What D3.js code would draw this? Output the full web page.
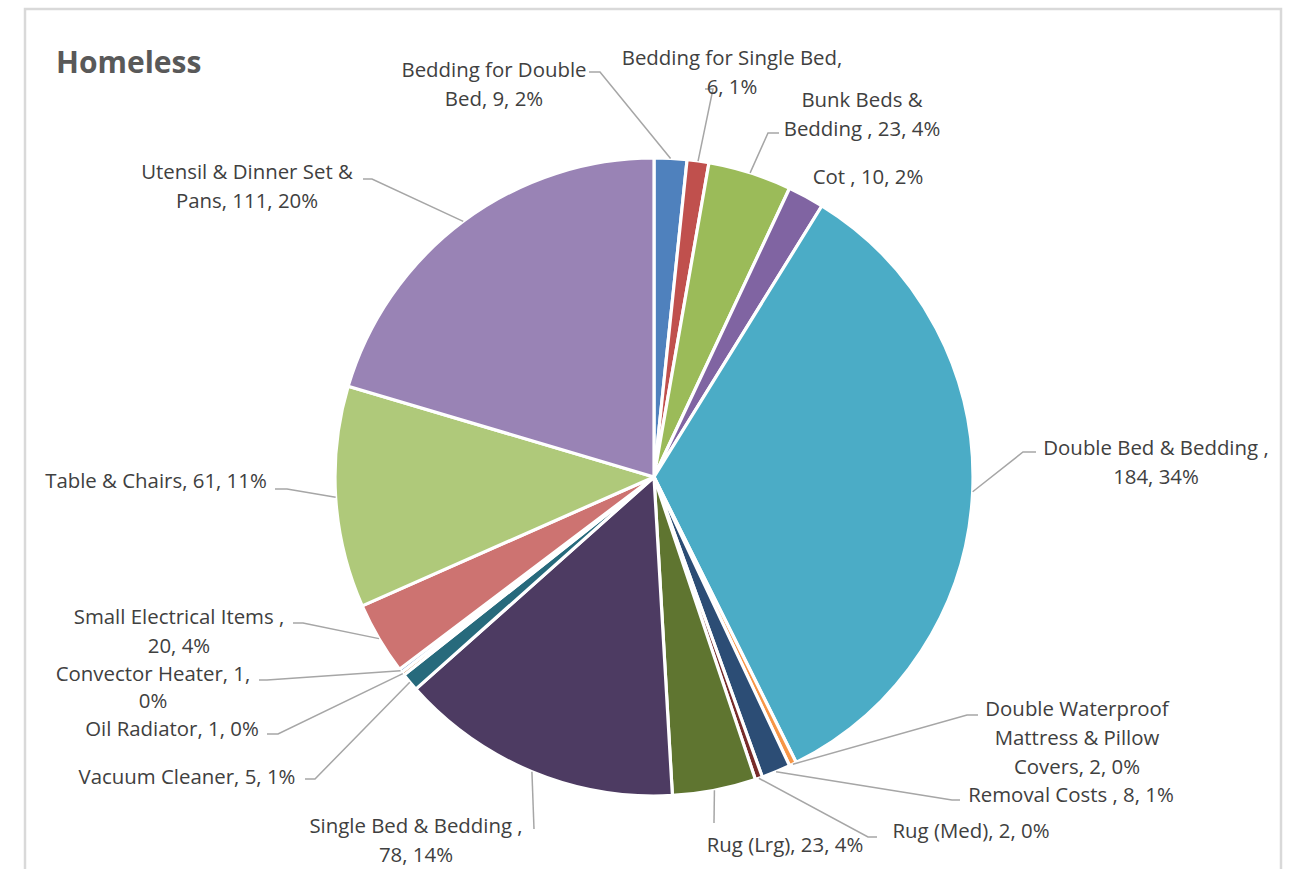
<!DOCTYPE html>
<html>
<head>
<meta charset="utf-8">
<script src="https://cdn.jsdelivr.net/npm/d3@7"></script>
<style>
  html, body { margin: 0; padding: 0; background: #ffffff; }
  svg { display: block; font-family: "Open Sans", "Noto Sans", sans-serif; }
</style>
</head>
<body>
<svg id="chart" width="1290" height="869"></svg>
<script>
// Item categories and counts, in pie order (clockwise from 12 o'clock)
const categories = [
  "Bedding for Double Bed",
  "Bedding for Single Bed",
  "Bunk Beds & Bedding ",
  "Cot ",
  "Double Bed & Bedding ",
  "Double Waterproof Mattress & Pillow Covers",
  "Removal Costs ",
  "Rug (Med)",
  "Rug (Lrg)",
  "Single Bed & Bedding ",
  "Vacuum Cleaner",
  "Oil Radiator",
  "Convector Heater",
  "Small Electrical Items ",
  "Table & Chairs",
  "Utensil & Dinner Set & Pans"
];
const values = [9, 6, 23, 10, 184, 2, 8, 2, 23, 78, 5, 1, 1, 20, 61, 111];

// Office-style palette for the sixteen slices
const sliceColors = [
  "#4F81BD", "#C0504D", "#9BBB59", "#8064A2", "#4BACC6", "#F79646",
  "#2C4D75", "#772C2A", "#5F7530", "#4D3B62", "#276A7C", "#B65708",
  "#729ACA", "#CD7371", "#AFC97A", "#9983B5"
];

// Words per line for each data label
const labelWraps = [
  [3, 3], [4, 2], [3, 4], [4], [5, 2], [2, 3, 3], [5], [4],
  [4], [5, 2], [4], [4], [3, 1], [4, 2], [5], [5, 3]
];

// Label placement: centre x, first baseline, line gap, leader elbow and end
const labelLayout = [
  { cx: 494,  y: 77,  gap: 29, knee: [600, 72],  end: [589, 72] },
  { cx: 732,  y: 65,  gap: 29, knee: [713, 89],  end: [705, 89] },
  { cx: 862,  y: 107, gap: 29, knee: [768, 133], end: [779, 133] },
  { cx: 868,  y: 184, gap: 29, knee: null,       end: null },
  { cx: 1156, y: 455, gap: 29, knee: [1023, 452], end: [1036, 452] },
  { cx: 1077, y: 716, gap: 29, knee: [967, 715], end: [978, 715] },
  { cx: 1071, y: 802, gap: 29, knee: [952, 800], end: [960, 800] },
  { cx: 971,  y: 838, gap: 29, knee: [868, 837], end: [877, 837] },
  { cx: 785,  y: 852, gap: 29, knee: [714, 823], end: [714, 823] },
  { cx: 416,  y: 833, gap: 29, knee: [534, 829], end: [534, 829] },
  { cx: 187,  y: 784, gap: 29, knee: [315, 779], end: [305, 779] },
  { cx: 172,  y: 736, gap: 29, knee: [278, 734], end: [267, 734] },
  { cx: 153,  y: 681, gap: 27, knee: [267, 680], end: [259, 680] },
  { cx: 179,  y: 624, gap: 29, knee: [303, 623], end: [293, 623] },
  { cx: 156,  y: 488, gap: 29, knee: [287, 489], end: [275, 489] },
  { cx: 247,  y: 179, gap: 29, knee: [372, 179], end: [363, 179] }
];

const chartTitle = "Homeless";

const svg = d3.select("#chart");
const W = 1290, H = 869;

// Chart frame
svg.append("rect")
  .attr("x", 25).attr("y", 9)
  .attr("width", 1256).attr("height", H + 20)
  .attr("fill", "#ffffff")
  .attr("stroke", "#d9d9d9")
  .attr("stroke-width", 2.5);

// Title
svg.append("text")
  .attr("x", 56).attr("y", 73)
  .attr("font-size", 30)
  .attr("font-weight", 700)
  .attr("fill", "#595959")
  .text(chartTitle);

const cx = 654, cy = 477, radius = 319;
const total = d3.sum(values);

const data = categories.map((c, i) => ({ category: c, value: values[i], index: i }));

const pie = d3.pie().value(d => d.value).sort(null);
const arcs = pie(data);

const arc = d3.arc().innerRadius(0).outerRadius(radius);
const rimArc = d3.arc().innerRadius(radius).outerRadius(radius);

const g = svg.append("g").attr("transform", `translate(${cx},${cy})`);

g.selectAll("path.slice")
  .data(arcs)
  .join("path")
  .attr("class", "slice")
  .attr("d", arc)
  .attr("fill", d => sliceColors[d.data.index])
  .attr("stroke", "#ffffff")
  .attr("stroke-width", 3.2)
  .attr("stroke-linejoin", "round");

// Leader lines
const leaders = svg.append("g")
  .attr("fill", "none")
  .attr("stroke", "#a6a6a6")
  .attr("stroke-width", 1.5);

arcs.forEach(d => {
  const lay = labelLayout[d.data.index];
  if (!lay.knee) return;
  const p = rimArc.centroid(d);
  const pts = [[cx + p[0], cy + p[1]], lay.knee, lay.end];
  leaders.append("path").attr("d", d3.line()(pts));
});

// Data labels: "category, value, percent"
const labels = svg.append("g")
  .attr("font-size", 20.4)
  .attr("fill", "#404040")
  .attr("text-anchor", "middle");

arcs.forEach(d => {
  const i = d.data.index;
  const pct = Math.round(d.data.value / total * 100);
  const full = `${d.data.category}, ${d.data.value}, ${pct}%`;
  const words = full.split(/\s+/).filter(w => w.length);
  const lines = [];
  let k = 0;
  labelWraps[i].forEach(n => {
    lines.push(words.slice(k, k + n).join(" "));
    k += n;
  });
  const lay = labelLayout[i];
  const t = labels.append("text");
  lines.forEach((ln, j) => {
    t.append("tspan")
      .attr("x", lay.cx)
      .attr("y", lay.y + j * lay.gap)
      .text(ln);
  });
});
</script>
</body>
</html>
